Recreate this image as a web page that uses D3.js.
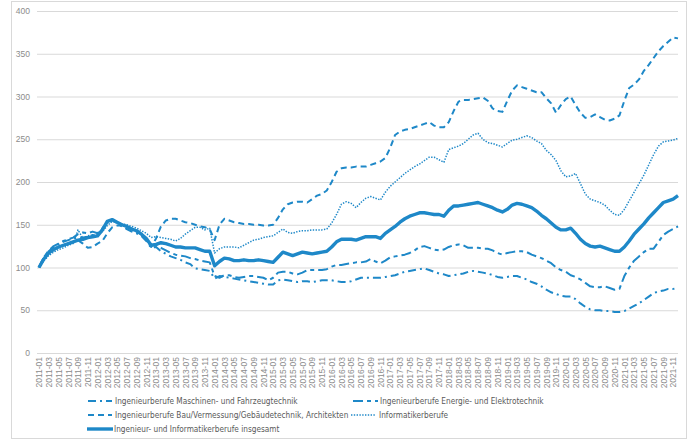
<!DOCTYPE html>
<meta charset="utf-8">
<head>
<style>
  body { margin: 0; background: #fff; }
  svg { font-family: "Liberation Sans Narrow", "DejaVu Sans Condensed", sans-serif; }
  .tick text { fill: #8c8c8c; }
  .legend text { fill: #595959; font-size: 8.2px; }
</style>
</head>
<body>
<script src="https://cdnjs.cloudflare.com/ajax/libs/d3/7.8.5/d3.min.js"></script>
<script>

// months 2011-01 .. 2021-12
const months = [];
for (let y = 2011; y <= 2021; y++)
  for (let m = 1; m <= 12; m++) months.push(y + "-" + String(m).padStart(2, "0"));

const yTicks = [0, 50, 100, 150, 200, 250, 300, 350, 400];

const maschinen = [
  100,112,119,124,127,130,132,134,135,135,136,138,
  138,145,152,155,152,148,145,142,140,137,131,123,
  124,119,116,113,111,109,106,104,99,98,97,96,
  87,90,89,88,87,86,85,84,83,82,81,80,
  80,85,86,85,84,83,84,84,83,84,85,85,
  85,84,83,83,84,86,88,88,88,88,88,89,
  90,91,93,95,96,97,98,99,97,95,93,92,
  90,91,92,93,95,96,95,94,93,91,89,88,
  89,90,90,88,86,83,81,78,74,71,69,67,
  66,66,63,58,54,51,50,50,49,49,48,48,
  49,52,55,58,62,66,70,72,73,75,75,76
];

const energie = [
  100,112,120,125,128,131,133,135,139,141,140,142,
  140,146,153,156,153,150,148,145,143,139,134,124,
  126,123,120,117,115,114,113,111,110,108,107,106,
  90,88,91,91,89,88,89,90,90,89,88,85,
  88,94,95,95,93,92,94,97,97,97,97,98,
  101,103,103,104,105,106,106,107,110,107,105,108,
  112,113,114,115,117,120,124,125,123,121,120,121,
  124,126,127,126,123,123,123,122,122,120,117,115,
  117,118,119,119,118,115,113,111,108,105,100,97,
  95,91,89,86,82,78,77,77,78,76,74,75,
  90,100,108,113,118,122,122,130,138,142,145,148
];

const bau = [
  100,110,117,121,124,126,128,130,132,128,123,124,
  128,131,140,147,149,149,147,145,142,139,134,124,
  134,148,155,157,157,155,153,152,150,148,147,145,
  132,150,157,155,153,152,151,151,150,150,149,149,
  150,158,168,174,176,177,177,176,180,184,186,190,
  200,212,216,217,217,218,218,218,220,222,224,228,
  240,255,259,261,262,264,266,268,270,266,264,264,
  270,283,294,296,296,297,298,299,295,286,283,282,
  295,307,313,311,309,307,305,305,298,292,281,290,
  297,300,290,281,275,276,279,276,273,272,274,278,
  295,310,314,320,330,337,345,353,359,364,369,368
];

const informatik = [
  100,108,114,118,121,123,126,128,144,134,137,138,
  138,142,149,154,153,151,150,148,146,143,140,135,
  136,135,134,133,131,134,139,143,147,147,144,146,
  117,122,124,124,124,123,126,129,132,133,135,136,
  137,141,145,141,140,142,143,143,144,144,144,145,
  152,162,174,177,175,170,176,181,183,181,179,188,
  195,200,205,210,214,218,221,225,229,229,226,223,
  238,240,242,245,250,255,257,250,246,245,243,241,
  245,249,250,252,254,252,248,245,237,232,225,213,
  206,207,210,198,186,180,178,176,173,167,162,161,
  168,178,188,198,208,220,232,242,247,248,249,251
];

const gesamt = [
  100,110,117,121,124,126,128,130,132,133,135,136,
  137,144,154,156,153,150,148,145,143,139,134,126,
  127,129,128,126,124,124,123,123,123,121,119,119,
  102,107,111,110,108,108,109,108,108,109,108,107,
  106,112,118,116,114,116,118,117,116,117,118,119,
  124,130,133,133,133,132,134,136,136,136,134,140,
  144,148,153,157,160,162,164,164,163,162,162,160,
  167,172,172,173,174,175,176,174,172,170,167,165,
  168,173,175,174,172,170,166,161,157,152,147,144,
  144,146,140,133,128,125,124,125,123,121,119,119,
  124,131,139,145,151,158,164,170,176,178,180,184
];

const seriesNames = [
  "Ingenieurberufe Maschinen- und Fahrzeugtechnik",
  "Ingenieurberufe Energie- und Elektrotechnik",
  "Ingenieurberufe Bau/Vermessung/Gebäudetechnik, Architekten",
  "Informatikerberufe",
  "Ingenieur- und Informatikerberufe insgesamt"
];

const color = "#1e88c8";
const series = [
  {name: seriesNames[0], values: maschinen,  dash: "8,4,2,4", width: 2},
  {name: seriesNames[1], values: energie,    dash: "10,4,4,4", width: 2},
  {name: seriesNames[2], values: bau,        dash: "6,4",      width: 2},
  {name: seriesNames[3], values: informatik, dash: "1.4,1.4",  width: 1.5},
  {name: seriesNames[4], values: gesamt,     dash: null,       width: 3.4}
];

const W = 690, H = 441;
const svg = d3.select("body").append("svg")
  .attr("width", W)
  .attr("height", H);

// outer frame
svg.append("rect")
  .attr("x", 11.5).attr("y", 1.5)
  .attr("width", 675).attr("height", 437)
  .attr("fill", "none")
  .attr("stroke", "#d9d9d9");

const x = d3.scalePoint().domain(months).range([39, 678]);
const y = d3.scaleLinear().domain([0, 400]).range([353, 11]);

// grid + y labels
const yAxis = d3.axisLeft(y)
  .tickValues(yTicks)
  .tickSize(-(678 - 37))
  .tickPadding(7);

svg.append("g")
  .attr("transform", "translate(37,0)")
  .call(yAxis)
  .call(g => g.select(".domain").remove())
  .call(g => g.selectAll(".tick line").attr("stroke", "#d9d9d9").attr("stroke-width", 1))
  .call(g => g.selectAll(".tick text").attr("font-size", "8.5px"));

// x labels, every second month
const xAxis = d3.axisBottom(x)
  .tickValues(months.filter((d, i) => i % 2 === 0))
  .tickSize(0);

svg.append("g")
  .attr("transform", "translate(0,353)")
  .call(xAxis)
  .call(g => g.select(".domain").remove())
  .selectAll(".tick text")
    .attr("font-size", "8.5px")
    .style("text-anchor", "end")
    .attr("dx", "-4")
    .attr("dy", "0.32em")
    .attr("y", 0)
    .attr("transform", "rotate(-90)");

const line = d3.line()
  .x((d, i) => x(months[i]))
  .y(d => y(d));

svg.append("g")
  .selectAll("path")
  .data(series)
  .join("path")
    .attr("d", d => line(d.values))
    .attr("fill", "none")
    .attr("stroke", color)
    .attr("stroke-width", d => d.width)
    .attr("stroke-dasharray", d => d.dash)
    .attr("stroke-linejoin", "round");

// legend
const legendPos = [
  {x1: 88, x2: 112, tx: 115, y: 401},
  {x1: 353, x2: 378, tx: 380, y: 401},
  {x1: 88, x2: 112, tx: 115, y: 415},
  {x1: 351, x2: 376, tx: 379, y: 415},
  {x1: 87, x2: 113, tx: 114, y: 429}
];

const legend = svg.append("g").attr("class", "legend")
  .selectAll("g")
  .data(series)
  .join("g");

legend.append("line")
  .attr("x1", (d, i) => legendPos[i].x1)
  .attr("x2", (d, i) => legendPos[i].x2)
  .attr("y1", (d, i) => legendPos[i].y)
  .attr("y2", (d, i) => legendPos[i].y)
  .attr("stroke", color)
  .attr("stroke-width", d => d.width)
  .attr("stroke-dasharray", d => d.dash);

legend.append("text")
  .attr("x", (d, i) => legendPos[i].tx)
  .attr("y", (d, i) => legendPos[i].y)
  .attr("dy", "0.35em")
  .text(d => d.name);

</script>
</body>
